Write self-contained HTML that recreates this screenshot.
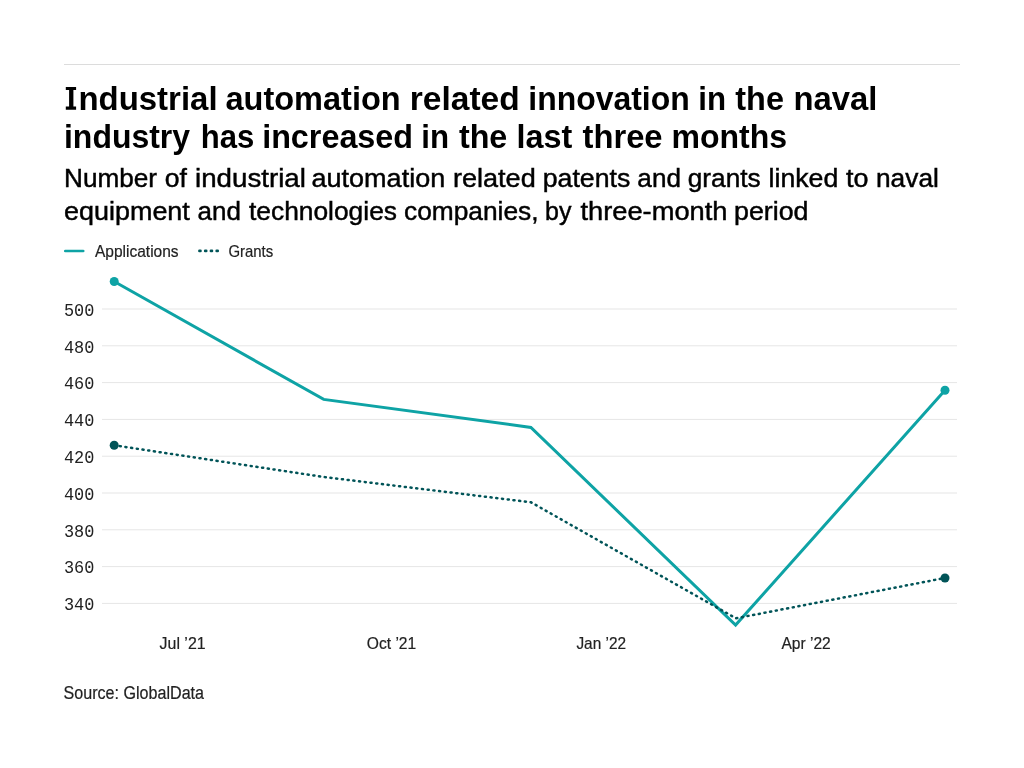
<!DOCTYPE html>
<html><head><meta charset="utf-8">
<style>
html,body{margin:0;padding:0;background:#fff;width:1024px;height:768px;overflow:hidden}
svg{display:block;will-change:transform}
.t{font-family:"Liberation Sans",sans-serif;font-weight:bold;font-size:33.4px;fill:#000}
.s{font-family:"Liberation Sans",sans-serif;font-size:25.8px;fill:#000;stroke:#000;stroke-width:0.45px}
.l{font-family:"Liberation Sans",sans-serif;font-size:16.6px;fill:#222;stroke:#222;stroke-width:0.2px}
.m{font-family:"Liberation Mono",monospace;font-size:18.6px;fill:#222}
</style></head>
<body>
<svg width="1024" height="768" viewBox="0 0 1024 768">
<rect x="64" y="64" width="896" height="1" fill="#dcdcdc"/>
<path d="M65.8 86.9H76.1V90H73.4V106.6H76.1V109.8H65.8V106.6H69.1V90H65.8Z" fill="#000"/>
<g class="t">
<text x="78.43" y="110.0" textLength="139.12" lengthAdjust="spacingAndGlyphs">ndustrial</text>
<text x="225.50" y="110.0" textLength="175.16" lengthAdjust="spacingAndGlyphs">automation</text>
<text x="409.79" y="110.0" textLength="109.91" lengthAdjust="spacingAndGlyphs">related</text>
<text x="528.29" y="110.0" textLength="161.45" lengthAdjust="spacingAndGlyphs">innovation</text>
<text x="698.33" y="110.0" textLength="27.78" lengthAdjust="spacingAndGlyphs">in</text>
<text x="735.30" y="110.0" textLength="48.65" lengthAdjust="spacingAndGlyphs">the</text>
<text x="793.53" y="110.0" textLength="83.90" lengthAdjust="spacingAndGlyphs">naval</text>
</g>
<g class="t">
<text x="63.99" y="148.3" textLength="126.10" lengthAdjust="spacingAndGlyphs">industry</text>
<text x="200.74" y="148.3" textLength="53.54" lengthAdjust="spacingAndGlyphs">has</text>
<text x="262.16" y="148.3" textLength="150.89" lengthAdjust="spacingAndGlyphs">increased</text>
<text x="421.33" y="148.3" textLength="27.78" lengthAdjust="spacingAndGlyphs">in</text>
<text x="458.90" y="148.3" textLength="48.45" lengthAdjust="spacingAndGlyphs">the</text>
<text x="516.56" y="148.3" textLength="55.75" lengthAdjust="spacingAndGlyphs">last</text>
<text x="582.50" y="148.3" textLength="80.06" lengthAdjust="spacingAndGlyphs">three</text>
<text x="671.48" y="148.3" textLength="115.67" lengthAdjust="spacingAndGlyphs">months</text>
</g>
<g class="s">
<text x="64.08" y="186.8" textLength="93.01" lengthAdjust="spacingAndGlyphs">Number</text>
<text x="164.68" y="186.8" textLength="22.16" lengthAdjust="spacingAndGlyphs">of</text>
<text x="195.04" y="186.8" textLength="110.90" lengthAdjust="spacingAndGlyphs">industrial</text>
<text x="311.56" y="186.8" textLength="133.64" lengthAdjust="spacingAndGlyphs">automation</text>
<text x="452.96" y="186.8" textLength="82.74" lengthAdjust="spacingAndGlyphs">related</text>
<text x="542.77" y="186.8" textLength="87.55" lengthAdjust="spacingAndGlyphs">patents</text>
<text x="637.39" y="186.8" textLength="43.57" lengthAdjust="spacingAndGlyphs">and</text>
<text x="687.79" y="186.8" textLength="72.82" lengthAdjust="spacingAndGlyphs">grants</text>
<text x="768.57" y="186.8" textLength="69.71" lengthAdjust="spacingAndGlyphs">linked</text>
<text x="846.11" y="186.8" textLength="22.44" lengthAdjust="spacingAndGlyphs">to</text>
<text x="875.98" y="186.8" textLength="62.88" lengthAdjust="spacingAndGlyphs">naval</text>
</g>
<g class="s">
<text x="64.06" y="219.5" textLength="125.80" lengthAdjust="spacingAndGlyphs">equipment</text>
<text x="197.49" y="219.5" textLength="43.36" lengthAdjust="spacingAndGlyphs">and</text>
<text x="249.00" y="219.5" textLength="147.96" lengthAdjust="spacingAndGlyphs">technologies</text>
<text x="403.98" y="219.5" textLength="134.62" lengthAdjust="spacingAndGlyphs">companies,</text>
<text x="545.02" y="219.5" textLength="26.43" lengthAdjust="spacingAndGlyphs">by</text>
<text x="580.46" y="219.5" textLength="147.00" lengthAdjust="spacingAndGlyphs">three-month</text>
<text x="733.97" y="219.5" textLength="74.52" lengthAdjust="spacingAndGlyphs">period</text>
</g>
<line x1="65.3" y1="251" x2="83.2" y2="251" stroke="#0ea3a5" stroke-width="2.7" stroke-linecap="round"/>
<text class="l" x="95" y="257.1" textLength="83.6" lengthAdjust="spacingAndGlyphs">Applications</text>
<line x1="199.4" y1="250.9" x2="217.8" y2="250.9" stroke="#015458" stroke-width="2.6" stroke-linecap="round" stroke-dasharray="1.1 4.65"/>
<text class="l" x="228.4" y="257.1" textLength="44.8" lengthAdjust="spacingAndGlyphs">Grants</text>
<g fill="#e6e6e6">
<rect x="102" y="308.5" width="855" height="1"/>
<rect x="102" y="345.3" width="855" height="1"/>
<rect x="102" y="382.1" width="855" height="1"/>
<rect x="102" y="418.9" width="855" height="1"/>
<rect x="102" y="455.7" width="855" height="1"/>
<rect x="102" y="492.5" width="855" height="1"/>
<rect x="102" y="529.3" width="855" height="1"/>
<rect x="102" y="566.1" width="855" height="1"/>
<rect x="102" y="602.9" width="855" height="1"/>
</g>
<g class="m">
<text x="63.9" y="315.7" textLength="30.4" lengthAdjust="spacingAndGlyphs">500</text>
<text x="63.9" y="352.5" textLength="30.4" lengthAdjust="spacingAndGlyphs">480</text>
<text x="63.9" y="389.3" textLength="30.4" lengthAdjust="spacingAndGlyphs">460</text>
<text x="63.9" y="426.1" textLength="30.4" lengthAdjust="spacingAndGlyphs">440</text>
<text x="63.9" y="462.9" textLength="30.4" lengthAdjust="spacingAndGlyphs">420</text>
<text x="63.9" y="499.7" textLength="30.4" lengthAdjust="spacingAndGlyphs">400</text>
<text x="63.9" y="536.5" textLength="30.4" lengthAdjust="spacingAndGlyphs">380</text>
<text x="63.9" y="573.3" textLength="30.4" lengthAdjust="spacingAndGlyphs">360</text>
<text x="63.9" y="610.1" textLength="30.4" lengthAdjust="spacingAndGlyphs">340</text>
</g>
<g class="l">
<text x="159.6" y="649" textLength="46" lengthAdjust="spacingAndGlyphs">Jul ’21</text>
<text x="366.8" y="649" textLength="49.4" lengthAdjust="spacingAndGlyphs">Oct ’21</text>
<text x="576.4" y="649" textLength="49.6" lengthAdjust="spacingAndGlyphs">Jan ’22</text>
<text x="781.4" y="649" textLength="49.4" lengthAdjust="spacingAndGlyphs">Apr ’22</text>
</g>
<text class="l" x="63.6" y="698.8" style="font-size:17.6px" textLength="140.4" lengthAdjust="spacingAndGlyphs">Source: GlobalData</text>
<polyline points="114.2,281.5 323.7,399.4 530.9,427.4 735.6,625.1 945,390.2" fill="none" stroke="#0ea3a5" stroke-width="3" stroke-linejoin="miter"/>
<polyline points="114.2,445.3 323.7,477 531,502.3 736,618.3 945,578" fill="none" stroke="#015458" stroke-width="2.5" stroke-linecap="round" stroke-dasharray="1.1 4.66" stroke-dashoffset="0.2"/>
<circle cx="114.2" cy="281.5" r="4.5" fill="#0ea3a5"/>
<circle cx="945" cy="390.2" r="4.5" fill="#0ea3a5"/>
<circle cx="114.2" cy="445.3" r="4.5" fill="#015458"/>
<circle cx="945" cy="578" r="4.5" fill="#015458"/>
</svg>
</body></html>
